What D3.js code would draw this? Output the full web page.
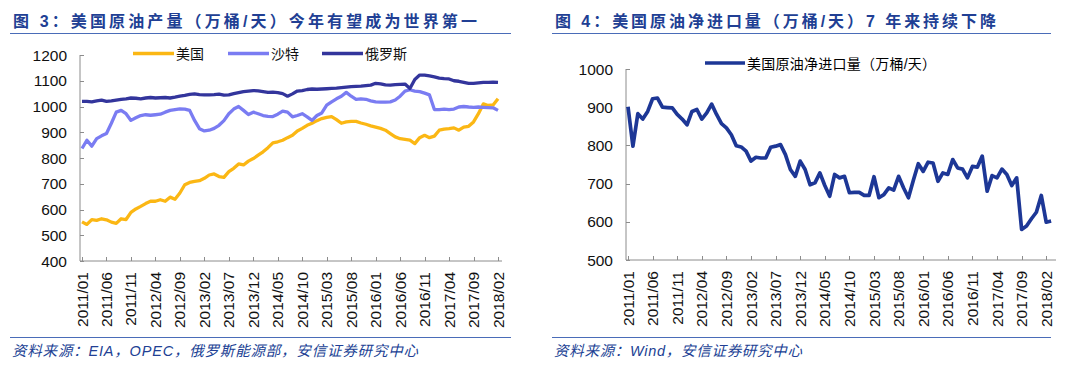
<!DOCTYPE html>
<html><head><meta charset="utf-8">
<script src="https://cdn.jsdelivr.net/npm/d3@7"></script>
<style>
html,body{margin:0;padding:0;background:#fff;}
svg{display:block;}
</style></head>
<body>
<svg id="c" width="1080" height="368"></svg>
<script>
// ---------- DATA ----------
const leftTickLabels = ["2011/01","2011/06","2011/11","2012/04","2012/09","2013/02","2013/07","2013/12","2014/05","2014/10","2015/03","2015/08","2016/01","2016/06","2016/11","2017/04","2017/09","2018/02"];
const rightTickLabels = leftTickLabels.slice();
const leftYTicks = [400,500,600,700,800,900,1000,1100,1200];
const rightYTicks = [500,600,700,800,900,1000];
const seriesNames = ["美国","沙特","俄罗斯"];
const usProd = [552,542,561,558,564,560,551,546,564,561,589,602,612,623,632,632,638,632,648,640,664,696,705,709,712,721,734,738,728,725,747,760,777,773,788,798,811,824,840,859,863,869,879,888,905,915,927,935,945,953,958,961,949,935,940,942,942,936,931,925,920,915,908,895,882,875,872,869,856,879,888,879,885,908,912,914,917,908,920,923,940,972,1010,1004,1006,1030];
const saudiProd = [837,869,846,875,886,895,935,978,985,972,946,956,965,968,966,968,970,978,985,988,991,990,985,946,914,905,908,915,927,945,972,990,1000,985,969,978,972,965,962,961,970,982,978,960,965,972,960,946,965,975,1005,1018,1030,1040,1055,1040,1028,1030,1028,1022,1018,1017,1017,1018,1025,1040,1060,1065,1060,1058,1052,1045,988,988,990,988,990,998,1000,998,997,998,997,996,995,985];
const russiaProd = [1020,1020,1018,1022,1025,1020,1022,1025,1028,1030,1033,1032,1030,1033,1035,1033,1034,1035,1033,1036,1040,1043,1047,1049,1046,1045,1045,1046,1048,1044,1045,1050,1054,1058,1060,1062,1061,1058,1055,1056,1054,1050,1040,1049,1060,1062,1066,1068,1067,1068,1069,1070,1071,1073,1075,1077,1078,1079,1081,1083,1090,1088,1084,1083,1085,1086,1087,1070,1105,1122,1122,1119,1115,1110,1108,1107,1100,1098,1094,1090,1090,1092,1094,1094,1095,1094];
const netImportName = "美国原油净进口量（万桶/天）";
const netImports = [901,798,883,869,889,922,924,900,899,898,881,869,854,889,894,869,885,908,881,857,846,828,799,796,785,759,769,767,767,795,798,802,776,737,719,759,737,697,702,728,695,667,724,715,719,676,677,677,669,669,718,663,671,689,683,719,689,663,709,752,732,756,754,706,728,724,763,741,738,715,745,743,772,680,721,715,738,724,695,715,580,589,608,625,669,599,602];

const title1 = "图 3：美国原油产量（万桶/天）今年有望成为世界第一";
const title2 = "图 4：美国原油净进口量（万桶/天）7 年来持续下降";
const source1 = "资料来源：EIA，OPEC，俄罗斯能源部，安信证券研究中心";
const source2 = "资料来源：Wind，安信证券研究中心";

// ---------- STYLE ----------
const blue = "#213f94";
const ruleColor = "#4a6cb8";
const axisColor = "#8c8c8c";
const colors = ["#fbb714", "#7a7cf2", "#33359c"];
const rightColor = "#1d3796";
const numFont = "'Liberation Sans', Arial, sans-serif";
const cjkFont = "'Liberation Sans', 'Noto Sans CJK SC', sans-serif";

const svg = d3.select("#c");

function panelFrame(x0, x1, title, source, titleW, sourceW) {
  svg.append("text").attr("x", x0 + 3).attr("y", 26.5)
    .attr("fill", blue).attr("font-family", cjkFont).attr("font-weight", "bold")
    .attr("font-size", 16).attr("textLength", titleW).attr("lengthAdjust", "spacing").text(title);
  svg.append("line").attr("x1", x0).attr("x2", x1).attr("y1", 33.5).attr("y2", 33.5)
    .attr("stroke", ruleColor).attr("stroke-width", 1.2);
  svg.append("line").attr("x1", x0).attr("x2", x1).attr("y1", 337.5).attr("y2", 337.5)
    .attr("stroke", ruleColor).attr("stroke-width", 1.2);
  svg.append("text").attr("x", x0 + 2).attr("y", 356)
    .attr("fill", blue).attr("font-family", cjkFont).attr("font-style", "italic")
    .attr("font-size", 14.5).attr("textLength", sourceW).attr("lengthAdjust", "spacing").text(source);
}

function drawAxes(g, x, y, yTicks, xTickIdx, xLabels, xEnd) {
  const [y0] = y.range();
  const xa = x.range()[0] - 2;
  g.append("line").attr("x1", xa).attr("x2", xa).attr("y1", y0).attr("y2", y(yTicks[yTicks.length-1]))
    .attr("stroke", axisColor).attr("stroke-width", 1);
  g.selectAll(".yt").data(yTicks).enter().append("line")
    .attr("x1", xa).attr("x2", xa + 4).attr("y1", d => Math.round(y(d)) + 0.5).attr("y2", d => Math.round(y(d)) + 0.5)
    .attr("stroke", axisColor);
  g.selectAll(".yl").data(yTicks).enter().append("text")
    .attr("x", xa - 13).attr("y", d => y(d) + 5.5).attr("text-anchor", "end")
    .attr("font-family", numFont).attr("font-size", 15.5).attr("fill", "#111").text(d => d);
  g.append("line").attr("x1", xa).attr("x2", xEnd).attr("y1", y0).attr("y2", y0)
    .attr("stroke", axisColor).attr("stroke-width", 1);
  g.selectAll(".xt").data(xTickIdx).enter().append("line")
    .attr("x1", d => Math.round(x(d)) + 0.5).attr("x2", d => Math.round(x(d)) + 0.5)
    .attr("y1", y0).attr("y2", y0 - 4).attr("stroke", axisColor);
  g.selectAll(".xl").data(xTickIdx).enter().append("text")
    .attr("transform", (d) => `translate(${x(d) + 5.5},${y0 + 11}) rotate(-90)`)
    .attr("text-anchor", "end")
    .attr("font-family", numFont).attr("font-size", 15.5).attr("fill", "#111")
    .text((d, i) => xLabels[i]);
}

// ---------- LEFT PANEL ----------
panelFrame(10, 511, title1, source1, 464, 406);
{
  const g = svg.append("g");
  const x = d3.scaleLinear().domain([0, 85]).range([82, 498]);
  const y = d3.scaleLinear().domain([400, 1200]).range([261, 55]);
  const tickIdx = leftTickLabels.map((_, i) => i * 5);
  drawAxes(g, x, y, leftYTicks, tickIdx, leftTickLabels, 502);
  const line = d3.line().x((d, i) => x(i)).y(d => y(d));
  [usProd, saudiProd, russiaProd].forEach((s, k) => {
    g.append("path").datum(s).attr("d", line).attr("fill", "none")
      .attr("stroke", colors[k]).attr("stroke-width", 3.3).attr("stroke-linejoin", "round");
  });
  const lx = [133, 228, 322];
  seriesNames.forEach((nm, k) => {
    g.append("line").attr("x1", lx[k]).attr("x2", lx[k] + 41).attr("y1", 53.5).attr("y2", 53.5)
      .attr("stroke", colors[k]).attr("stroke-width", 3.3);
    g.append("text").attr("x", lx[k] + 43).attr("y", 59).attr("font-family", cjkFont)
      .attr("font-size", 14).attr("fill", "#111").text(nm);
  });
}

// ---------- RIGHT PANEL ----------
panelFrame(552, 1051, title2, source2, 441, 248);
{
  const g = svg.append("g");
  const x = d3.scaleLinear().domain([0, 86]).range([628, 628 + 86 * 4.92]);
  const y = d3.scaleLinear().domain([500, 1000]).range([260, 69]);
  const tickIdx = rightTickLabels.map((_, i) => i * 5);
  drawAxes(g, x, y, rightYTicks, tickIdx, rightTickLabels, 1056);
  const line = d3.line().x((d, i) => x(i)).y(d => y(d));
  g.append("path").datum(netImports).attr("d", line).attr("fill", "none")
    .attr("stroke", rightColor).attr("stroke-width", 3.7).attr("stroke-linejoin", "round");
  g.append("line").attr("x1", 705).attr("x2", 745).attr("y1", 63).attr("y2", 63)
    .attr("stroke", rightColor).attr("stroke-width", 3.7);
  g.append("text").attr("x", 747).attr("y", 68.5).attr("font-family", cjkFont)
    .attr("font-size", 14).attr("textLength", 189).attr("lengthAdjust", "spacing").text(netImportName);
}
</script>
</body></html>
